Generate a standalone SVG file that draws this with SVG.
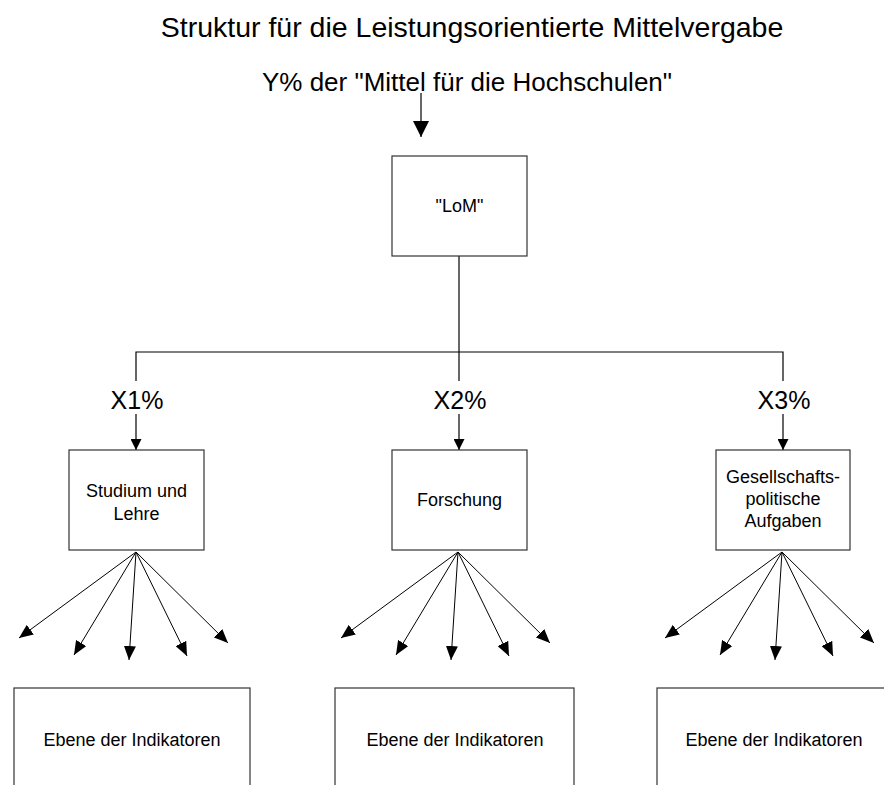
<svg xmlns="http://www.w3.org/2000/svg" width="884" height="785" viewBox="0 0 884 785">
<defs>
<marker id="ah" markerUnits="userSpaceOnUse" markerWidth="14" markerHeight="12" refX="14" refY="6" orient="auto"><path d="M0,0 L14,6 L0,12 z" fill="#000"/></marker>
<marker id="ahs" markerUnits="userSpaceOnUse" markerWidth="11" markerHeight="11" refX="11" refY="5.5" orient="auto"><path d="M0,0 L11,5.5 L0,11 z" fill="#000"/></marker>
<marker id="ahb" markerUnits="userSpaceOnUse" markerWidth="16" markerHeight="16" refX="16" refY="8" orient="auto"><path d="M0,0 L16,8 L0,16 z" fill="#000"/></marker>
<style>
text{font-family:"Liberation Sans",Arial,sans-serif;fill:#000;text-anchor:middle}
.box{fill:#fff;stroke:#333;stroke-width:1.2}
.n{font-size:18px}
.lbl{font-size:25px}
.ln{stroke:#000;stroke-width:1.2;fill:none}
.fan{stroke:#000;stroke-width:1;fill:none;marker-end:url(#ah)}
</style>
</defs>
<rect width="884" height="785" fill="#fff"/>
<text x="472" y="37" style="font-size:28.5px">Struktur für die Leistungsorientierte Mittelvergabe</text>
<text x="467" y="91" style="font-size:26px">Y% der "Mittel für die Hochschulen"</text>

<g id="connectors">
<line class="ln" x1="421" y1="93" x2="421" y2="137" marker-end="url(#ahb)"/>
<polyline class="ln" points="459,256 459,352"/>
<polyline class="ln" points="136,381 136,352 783,352 783,381"/>
<line class="ln" x1="459" y1="352" x2="459" y2="381"/>
<line class="ln" x1="136" y1="414" x2="136" y2="450" marker-end="url(#ahs)"/>
<line class="ln" x1="459" y1="414" x2="459" y2="450" marker-end="url(#ahs)"/>
<line class="ln" x1="783" y1="414" x2="783" y2="450" marker-end="url(#ahs)"/>
<text class="lbl" x="137" y="409">X1%</text>
<text class="lbl" x="460" y="409">X2%</text>
<text class="lbl" x="784" y="409">X3%</text>
<g id="fan1">
<line class="fan" x1="136" y1="552" x2="19" y2="638"/>
<line class="fan" x1="136" y1="552" x2="74" y2="655"/>
<line class="fan" x1="136" y1="552" x2="129" y2="660"/>
<line class="fan" x1="136" y1="552" x2="187" y2="656"/>
<line class="fan" x1="136" y1="552" x2="228" y2="643"/>
</g>
<g id="fan2">
<line class="fan" x1="458" y1="552" x2="341" y2="638"/>
<line class="fan" x1="458" y1="552" x2="396" y2="655"/>
<line class="fan" x1="458" y1="552" x2="451" y2="660"/>
<line class="fan" x1="458" y1="552" x2="509" y2="656"/>
<line class="fan" x1="458" y1="552" x2="550" y2="643"/>
</g>
<g id="fan3">
<line class="fan" x1="782" y1="552" x2="665" y2="638"/>
<line class="fan" x1="782" y1="552" x2="720" y2="655"/>
<line class="fan" x1="782" y1="552" x2="775" y2="660"/>
<line class="fan" x1="782" y1="552" x2="833" y2="656"/>
<line class="fan" x1="782" y1="552" x2="874" y2="643"/>
</g>
</g>

<g id="lom">
<rect class="box" x="392" y="156" width="135" height="100"/>
<text class="n" x="459.5" y="212">"LoM"</text>
</g>
<g id="studium">
<rect class="box" x="69" y="450" width="135" height="100"/>
<text class="n" x="136.5" y="497">Studium und</text>
<text class="n" x="136.5" y="520">Lehre</text>
</g>
<g id="forschung">
<rect class="box" x="392" y="450" width="135" height="100"/>
<text class="n" x="459.5" y="506">Forschung</text>
</g>
<g id="gesellschaft">
<rect class="box" x="716" y="450" width="134" height="100"/>
<text class="n" x="783" y="483">Gesellschafts-</text>
<text class="n" x="783" y="505">politische</text>
<text class="n" x="783" y="527">Aufgaben</text>
</g>
<g id="ebene1">
<rect class="box" x="14" y="688" width="236" height="120"/>
<text class="n" x="132" y="746">Ebene der Indikatoren</text>
</g>
<g id="ebene2">
<rect class="box" x="335" y="688" width="239" height="120"/>
<text class="n" x="455" y="746">Ebene der Indikatoren</text>
</g>
<g id="ebene3">
<rect class="box" x="657" y="688" width="240" height="120"/>
<text class="n" x="774" y="746">Ebene der Indikatoren</text>
</g>
</svg>
